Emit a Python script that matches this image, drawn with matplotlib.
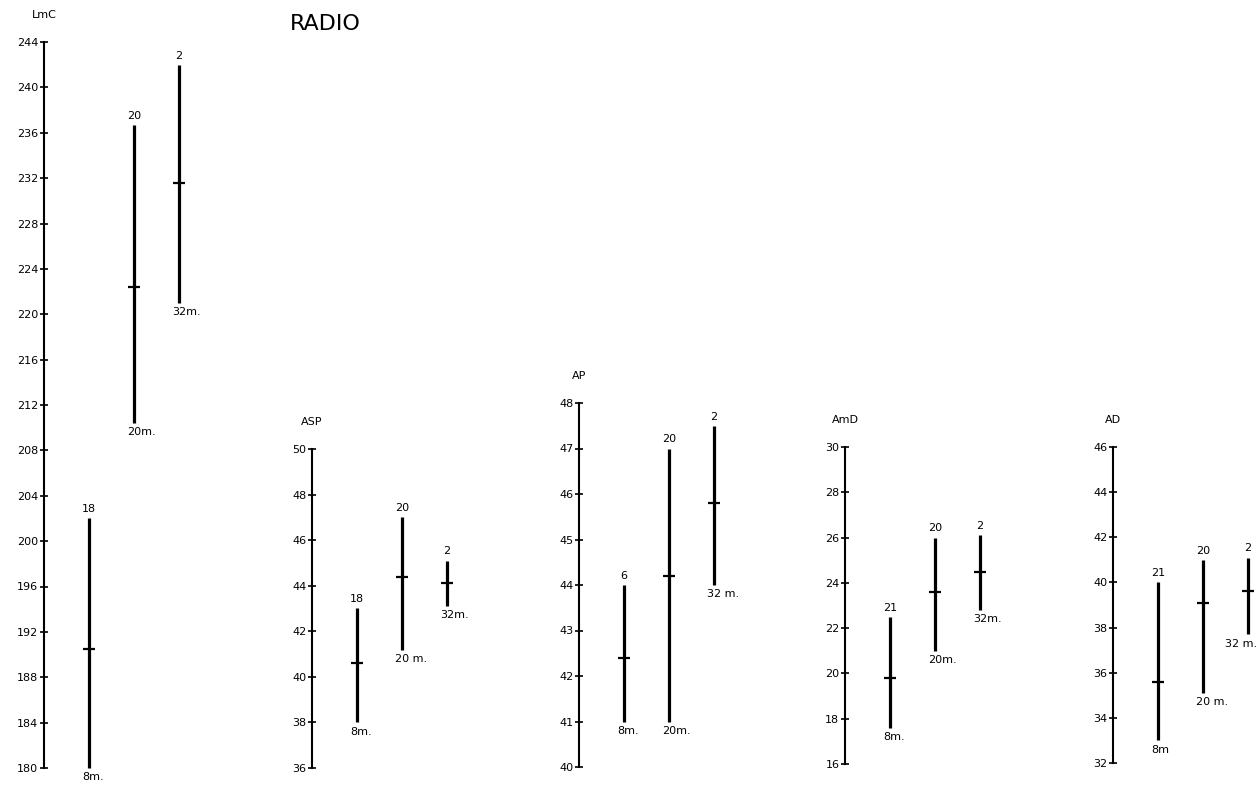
import matplotlib.pyplot as plt

# one panel per measurement: name, y range, tick step
panels = ["LmC", "ASP", "AP", "AmD", "AD"]
y_ranges = [(180, 244), (36, 50), (40, 48), (16, 30), (32, 46)]
y_steps = [4, 2, 1, 2, 2]

# per panel: sample size, max, mean, min, age label (8m / 20m / 32m groups)
counts = [
    ["18", "20", "2"],
    ["18", "20", "2"],
    ["6", "20", "2"],
    ["21", "20", "2"],
    ["21", "20", "2"],
]
maxima = [
    [202.0, 236.7, 242.0],
    [43.0, 47.0, 45.1],
    [44.0, 47.0, 47.5],
    [22.5, 26.0, 26.1],
    [40.0, 41.0, 41.1],
]
means = [
    [190.5, 222.4, 231.6],
    [40.6, 44.4, 44.1],
    [42.4, 44.2, 45.8],
    [19.8, 23.6, 24.5],
    [35.6, 39.1, 39.6],
]
minima = [
    [180.0, 210.4, 221.0],
    [38.0, 41.2, 43.1],
    [41.0, 41.0, 44.0],
    [17.6, 21.0, 22.8],
    [33.0, 35.1, 37.7],
]
age_labels = [
    ["8m.", "20m.", "32m."],
    ["8m.", "20 m.", "32m."],
    ["8m.", "20m.", "32 m."],
    ["8m.", "20m.", "32m."],
    ["8m", "20 m.", "32 m."],
]

# layout in pixels: spine x, top row, bottom row
W, H = 1259, 787
spine_x = [44, 312, 579, 845, 1113]
top_px = [42, 449, 403, 447, 447]
bot_px = [768, 768, 767, 764, 763]
unit_px = 45

plt.rcParams["font.family"] = "DejaVu Sans"
fig = plt.figure(figsize=(W / 100, H / 100), dpi=100)
fig.text(290 / W, 1 - 24 / H, "RADIO", fontsize=16, va="center", ha="left")

texts = []
for i, name in enumerate(panels):
    w = 3.6 * unit_px
    ax = fig.add_axes([spine_x[i] / W, 1 - bot_px[i] / H, w / W, (bot_px[i] - top_px[i]) / H])
    lo, hi = y_ranges[i]
    ax.set_ylim(lo, hi)
    ax.set_xlim(0, 3.6)
    ax.set_yticks(range(lo, hi + 1, y_steps[i]))
    ax.tick_params(axis="y", direction="inout", length=6, width=1.2, pad=1,
                   labelsize=8)
    ax.set_xticks([])
    for s in ["top", "right", "bottom"]:
        ax.spines[s].set_visible(False)
    ax.spines["left"].set_linewidth(1.5)
    ax.patch.set_alpha(0)

    xs = [1, 2, 3]
    ax.vlines(xs, minima[i], maxima[i], color="black", linewidth=2.3, clip_on=False)
    ax.plot(xs, means[i], linestyle="none", marker="_", markersize=9,
            markeredgewidth=1.6, color="black", clip_on=False)
    for x, top, bot, n, lab in zip(xs, maxima[i], minima[i], counts[i], age_labels[i]):
        ax.annotate(n, (x, top), xytext=(0, 3), textcoords="offset points",
                    ha="center", va="bottom", fontsize=8)
        t = ax.annotate(lab, (x, bot), xytext=(-5, -3), textcoords="offset points",
                        ha="left", va="top", fontsize=8)
        texts.append(t)
    ax.annotate(name, (0, hi), xytext=(0, 16), textcoords="offset points",
                ha="center", va="bottom", fontsize=8)

# keep labels near the right edge inside the figure
fig.canvas.draw()
renderer = fig.canvas.get_renderer()
for t in texts:
    bb = t.get_window_extent(renderer)
    if bb.x1 > W - 2:
        ox, oy = t.get_position()
        shift = (bb.x1 - (W - 2)) * 72 / 100
        t.set_position((ox - shift, oy))

fig.savefig("out.png", dpi=100)
